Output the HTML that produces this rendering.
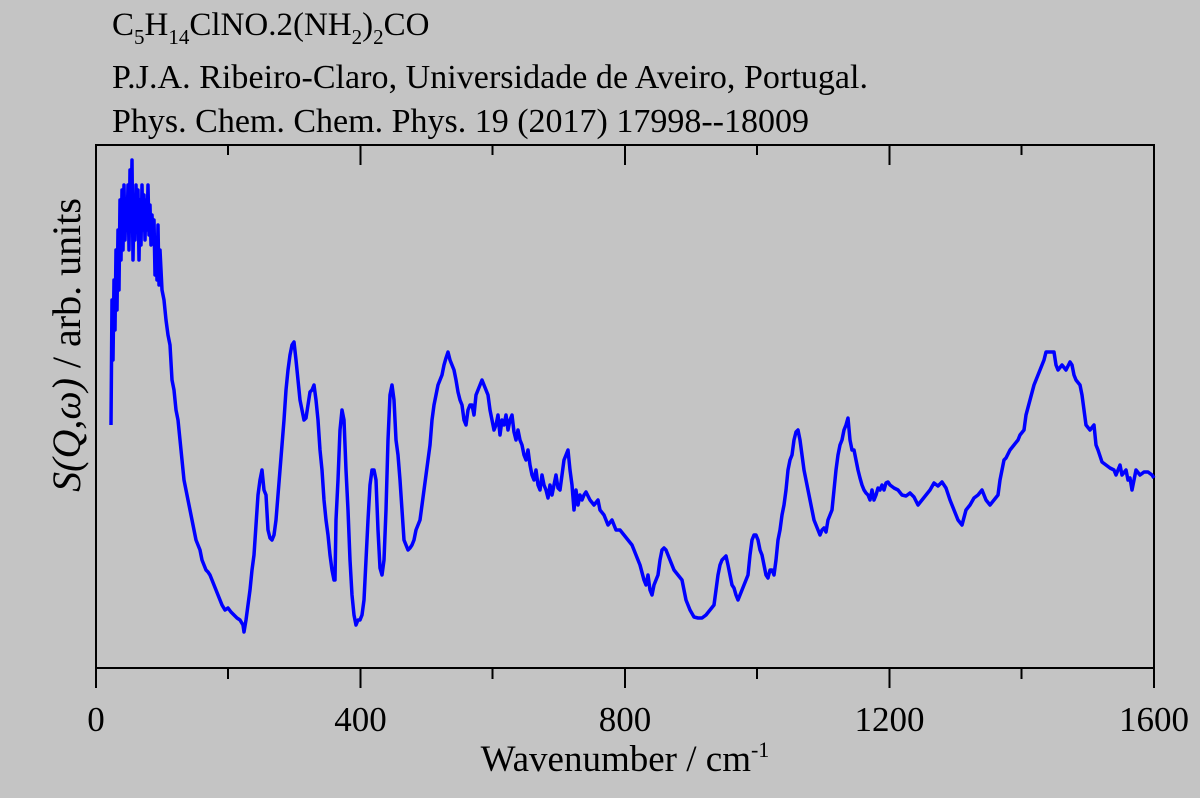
<!DOCTYPE html>
<html><head><style>body{margin:0;background:#c4c4c4}svg{display:block}</style></head><body>
<svg width="1200" height="798" xmlns="http://www.w3.org/2000/svg" font-family="Liberation Serif, serif">
<rect width="1200" height="798" fill="#c4c4c4"/>
<text x="112" y="35" font-size="33">C<tspan font-size="21" dy="9">5</tspan><tspan dy="-9">H</tspan><tspan font-size="21" dy="9">14</tspan><tspan dy="-9">ClNO.2(NH</tspan><tspan font-size="21" dy="9">2</tspan><tspan dy="-9">)</tspan><tspan font-size="21" dy="9">2</tspan><tspan dy="-9">CO</tspan></text>
<text x="112" y="88" textLength="756" font-size="34">P.J.A. Ribeiro-Claro, Universidade de Aveiro, Portugal.</text>
<text x="112" y="132" font-size="34">Phys. Chem. Chem. Phys. 19 (2017) 17998--18009</text>
<rect x="96" y="145" width="1058" height="523" fill="none" stroke="#000" stroke-width="2"/>
<g stroke="#000" stroke-width="2">
<line x1="96" y1="668" x2="96" y2="688"/><line x1="360.5" y1="668" x2="360.5" y2="688"/><line x1="625" y1="668" x2="625" y2="688"/><line x1="889.5" y1="668" x2="889.5" y2="688"/><line x1="1154" y1="668" x2="1154" y2="688"/>
<line x1="228" y1="668" x2="228" y2="679"/><line x1="492.5" y1="668" x2="492.5" y2="679"/><line x1="757" y1="668" x2="757" y2="679"/><line x1="1021.5" y1="668" x2="1021.5" y2="679"/>
<line x1="228" y1="145" x2="228" y2="155"/><line x1="360.5" y1="145" x2="360.5" y2="165"/><line x1="492.5" y1="145" x2="492.5" y2="155"/><line x1="625" y1="145" x2="625" y2="165"/><line x1="757" y1="145" x2="757" y2="155"/><line x1="889.5" y1="145" x2="889.5" y2="165"/><line x1="1021.5" y1="145" x2="1021.5" y2="155"/>
</g>
<g font-size="35" text-anchor="middle">
<text x="96" y="731">0</text><text x="360.5" y="731">400</text><text x="625" y="731">800</text><text x="889.5" y="731">1200</text><text x="1154" y="731">1600</text>
<text x="625" y="771" font-size="37">Wavenumber / cm<tspan font-size="22" dy="-14">-1</tspan></text>
</g>
<text transform="translate(80,345) rotate(-90)" font-size="40" text-anchor="middle"><tspan font-style="italic">S(Q,ω)</tspan> / arb. units</text>
<polyline fill="none" stroke="#0000ff" stroke-width="3.5" stroke-linejoin="round" points="111,425 112,300 113,360 114,280 115,330 116,250 117,310 118,230 119,290 120,200 121,260 122,190 123,250 124,185 125,240 126,200 127,230 128,185 129,250 130,170 131,220 132,160 133,260 134,200 135,240 136,185 137,230 138,190 139,260 140,200 141,245 142,185 143,230 144,195 145,240 146,200 147,230 148,185 149,235 150,205 151,245 152,215 153,240 154,220 155,275 156,240 157,280 158,225 159,285 160,250 162,290 164,300 166,320 168,335 170,345 172,380 174,390 176,410 178,420 180,440 182,460 184,480 186,490 188,500 190,510 192,520 194,530 196,540 198,545 200,550 202,560 204,565 206,570 208,572 210,575 212,580 214,585 216,590 218,595 220,600 222,605 225,610 228,608 231,612 234,615 237,618 240,620 243,625 244,632 246,620 248,605 250,590 252,570 254,555 256,525 258,495 260,480 262,470 264,490 266,495 268,530 270,538 272,540 274,535 276,520 278,495 280,470 282,445 284,420 286,390 288,370 290,355 292,345 294,342 296,360 298,380 300,400 302,410 304,420 306,418 308,405 310,392 312,390 314,385 316,400 318,420 320,450 322,470 324,500 326,520 328,535 330,555 332,570 334,580 335,580 336,520 338,480 340,430 342,410 344,420 346,470 348,510 350,560 352,595 354,615 356,625 358,620 360,620 362,615 364,600 366,560 368,520 370,485 372,470 374,470 376,480 378,530 380,568 382,575 384,560 386,510 388,440 390,395 392,385 394,400 396,440 398,455 400,480 402,510 404,540 406,545 408,550 410,548 412,545 414,540 416,530 418,525 420,520 422,505 424,490 426,475 428,460 430,445 432,420 434,405 436,395 438,385 440,380 442,375 444,365 446,358 448,352 450,360 452,365 454,370 456,380 458,392 460,400 462,405 464,420 466,425 468,410 470,405 472,405 474,415 476,395 478,390 480,385 482,380 484,385 486,390 488,395 490,410 492,420 494,430 496,425 498,415 500,435 502,420 504,425 506,415 508,430 510,420 512,415 514,432 516,440 518,430 520,440 522,445 524,455 526,460 528,450 530,465 532,475 534,480 536,470 538,485 540,490 542,475 544,485 546,490 548,498 550,485 552,495 554,485 556,475 558,488 560,490 562,475 564,460 566,455 568,450 570,470 572,485 574,510 576,490 578,505 580,495 582,500 584,495 586,492 590,500 594,505 598,500 600,510 604,515 608,525 612,520 616,530 620,530 624,535 628,540 632,545 636,555 640,565 644,580 646,585 648,575 650,590 652,595 654,585 656,580 658,575 660,560 662,550 664,548 666,550 668,555 670,560 674,570 678,575 682,580 684,590 686,600 690,610 694,617 698,618 702,618 706,615 710,610 714,605 716,590 718,575 720,565 722,560 724,558 726,556 728,565 730,575 732,585 734,588 736,595 738,600 740,595 742,590 744,585 746,580 748,575 750,555 752,540 754,535 756,535 758,540 760,550 762,555 764,565 766,575 768,578 770,570 772,570 774,575 776,560 778,540 780,530 782,515 784,505 786,490 788,470 790,460 792,455 794,440 796,432 798,430 800,440 802,455 804,470 806,480 808,490 810,500 812,510 814,520 816,525 818,530 820,535 822,530 824,528 826,532 828,520 830,515 832,510 834,490 836,470 838,455 840,445 842,440 844,430 846,425 848,418 850,440 852,450 854,450 856,460 858,470 860,478 862,485 864,490 866,493 868,495 870,500 872,490 874,500 876,495 878,488 880,490 882,485 884,490 886,483 888,482 890,485 894,488 898,490 902,495 906,496 910,493 914,497 918,505 922,500 926,495 930,490 934,483 938,486 942,482 946,488 950,500 954,510 958,520 962,525 966,510 970,505 974,498 978,495 982,490 986,500 990,505 994,500 998,495 1000,480 1002,470 1004,460 1006,458 1010,450 1014,445 1018,440 1020,435 1024,430 1026,415 1030,400 1034,385 1038,375 1042,365 1044,360 1046,352 1050,352 1054,352 1056,365 1058,370 1062,365 1066,370 1070,362 1072,365 1074,375 1076,380 1080,385 1082,395 1084,410 1086,425 1090,430 1094,425 1096,445 1098,450 1102,462 1106,465 1110,468 1114,470 1116,475 1120,465 1122,475 1126,470 1128,480 1130,478 1132,490 1136,470 1140,475 1144,472 1148,472 1152,475 1154,478"/>
</svg>
</body></html>
